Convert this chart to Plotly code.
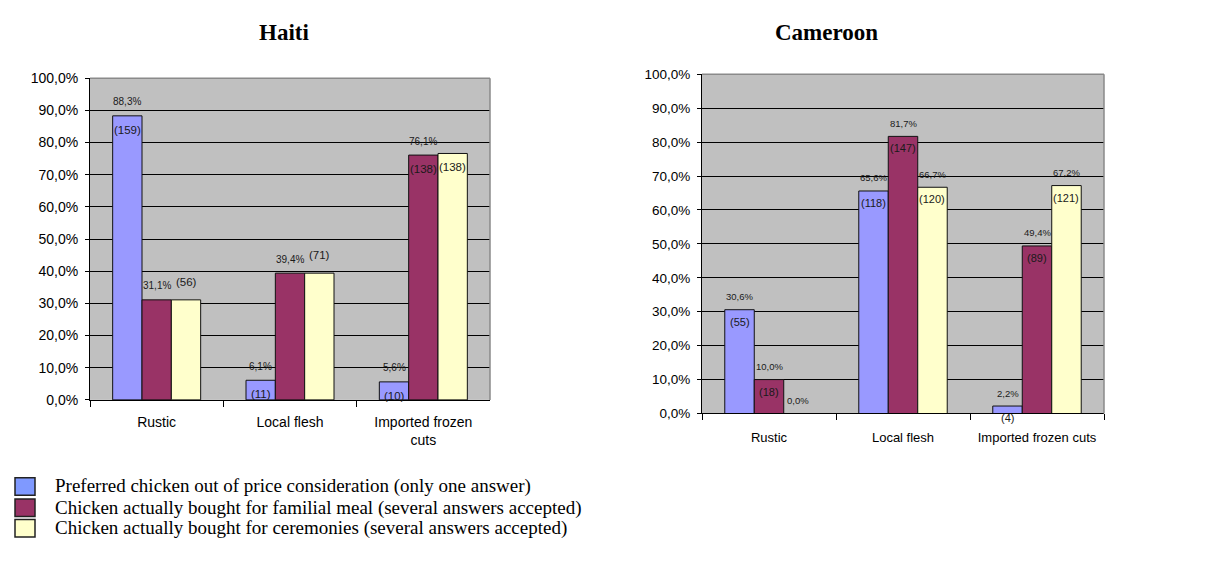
import plotly.graph_objects as go

# ---------------- data ----------------
categories = ["Rustic", "Local flesh", "Imported frozen cuts"]
haiti_tick_labels = ["Rustic", "Local flesh", "Imported frozen<br>cuts"]
cameroon_tick_labels = ["Rustic", "Local flesh", "Imported frozen cuts"]

series_names = [
    "Preferred chicken out of price consideration (only one answer)",
    "Chicken actually bought for familial meal (several answers accepted)",
    "Chicken actually bought for ceremonies (several answers accepted)",
]

# Haiti (percent)
haiti_preferred = [88.3, 6.1, 5.6]
haiti_familial = [31.1, 39.4, 76.1]
haiti_ceremonies = [31.1, 39.4, 76.6]

haiti_preferred_pct = ["88,3%", "6,1%", "5,6%"]
haiti_familial_pct = ["31,1%", "39,4%", "76,1%"]
haiti_ceremonies_pct = ["", "", ""]

haiti_preferred_n = ["(159)", "(11)", "(10)"]
haiti_familial_n = ["", "", "(138)"]
haiti_ceremonies_n = ["(56)", "(71)", "(138)"]
haiti_ceremonies_n_outside = [True, True, False]

# Cameroon (percent)
cam_preferred = [30.6, 65.6, 2.2]
cam_familial = [10.0, 81.7, 49.4]
cam_ceremonies = [0.0, 66.7, 67.2]

cam_preferred_pct = ["30,6%", "65,6%", "2,2%"]
cam_familial_pct = ["10,0%", "81,7%", "49,4%"]
cam_ceremonies_pct = ["0,0%", "66,7%", "67,2%"]

cam_preferred_n = ["(55)", "(118)", "(4)"]
cam_familial_n = ["(18)", "(147)", "(89)"]
cam_ceremonies_n = ["", "(120)", "(121)"]

y_ticks = [0, 10, 20, 30, 40, 50, 60, 70, 80, 90, 100]
y_tick_labels = ["0,0%", "10,0%", "20,0%", "30,0%", "40,0%", "50,0%",
                 "60,0%", "70,0%", "80,0%", "90,0%", "100,0%"]

# ---------------- styles / layout helpers ----------------
colors = ["#9999FF", "#993366", "#FFFFCC"]
legend_colors = ["#7F99FF", "#993366", "#FFFFCC"]
SANS = "Liberation Sans, Arial, sans-serif"
SERIF = "Liberation Serif, Times New Roman, serif"

PAGE_MARGIN = 8          # default body margin of the html page
W = 1224 - 2 * PAGE_MARGIN
H = 585 - 2 * PAGE_MARGIN


def px(x):
    return (x - PAGE_MARGIN) / W


def py(y):
    return 1 - (y - PAGE_MARGIN) / H


fig = go.Figure()

haiti_vals = [haiti_preferred, haiti_familial, haiti_ceremonies]
cam_vals = [cam_preferred, cam_familial, cam_ceremonies]

for k in range(3):
    fig.add_trace(go.Bar(x=categories, y=haiti_vals[k], name=series_names[k],
                         marker=dict(color=colors[k], line=dict(color="#111", width=1)),
                         xaxis="x", yaxis="y", showlegend=False, hoverinfo="skip"))
for k in range(3):
    fig.add_trace(go.Bar(x=categories, y=cam_vals[k], name=series_names[k],
                         marker=dict(color=colors[k], line=dict(color="#111", width=1)),
                         xaxis="x2", yaxis="y2", showlegend=False, hoverinfo="skip"))

offsets = [-0.22, 0.0, 0.22]
annotations = []


def add_label(xref, yref, i, k, val, text, shift, size):
    if not text:
        return
    annotations.append(dict(
        x=i + offsets[k], y=val, xref=xref, yref=yref, text=text,
        showarrow=False, yshift=shift, xanchor="center", yanchor="middle",
        font=dict(family=SANS, size=size, color="#1a1a1a")))


haiti_pcts = [haiti_preferred_pct, haiti_familial_pct, haiti_ceremonies_pct]
haiti_ns = [haiti_preferred_n, haiti_familial_n, haiti_ceremonies_n]
for k in range(3):
    for i in range(3):
        add_label("x", "y", i, k, haiti_vals[k][i], haiti_pcts[k][i], 14, 10)
        out = (k == 2 and haiti_ceremonies_n_outside[i])
        add_label("x", "y", i, k, haiti_vals[k][i], haiti_ns[k][i],
                  18 if out else -14, 11.5)

cam_pcts = [cam_preferred_pct, cam_familial_pct, cam_ceremonies_pct]
cam_ns = [cam_preferred_n, cam_familial_n, cam_ceremonies_n]
for k in range(3):
    for i in range(3):
        add_label("x2", "y2", i, k, cam_vals[k][i], cam_pcts[k][i], 13, 9.5)
        add_label("x2", "y2", i, k, cam_vals[k][i], cam_ns[k][i], -12, 11)

# titles
annotations.append(dict(x=px(257), y=py(25), xref="paper", yref="paper",
                        text="<b>Haiti</b>", showarrow=False, yanchor="middle",
                        font=dict(family=SERIF, size=23, color="black")))
annotations.append(dict(x=px(880), y=py(25), xref="paper", yref="paper",
                        text="<b>Cameroon</b>", showarrow=False, yanchor="middle",
                        font=dict(family=SERIF, size=23, color="black")))

# legend (custom)
shapes = []
legend_y = [492, 514, 535]
for k in range(3):
    yc = legend_y[k]
    shapes.append(dict(type="rect", xref="paper", yref="paper",
                       x0=px(15), x1=px(35), y0=py(yc + 9), y1=py(yc - 9),
                       fillcolor=legend_colors[k], line=dict(color="#222", width=1.5)))
    annotations.append(dict(x=px(53), y=py(yc), xref="paper", yref="paper",
                            text=series_names[k], showarrow=False, xanchor="left",
                            yanchor="middle",
                            font=dict(family=SERIF, size=19, color="black")))

# plot-area borders (top and right, grey)
for xr, yr in (("x", "y"), ("x2", "y2")):
    shapes.append(dict(type="line", xref=xr + " domain", yref=yr + " domain",
                       x0=0, x1=1, y0=1, y1=1, line=dict(color="#8a8a8a", width=1.5),
                       layer="above"))
    shapes.append(dict(type="line", xref=xr + " domain", yref=yr + " domain",
                       x0=1, x1=1, y0=0, y1=1, line=dict(color="#8a8a8a", width=1.5),
                       layer="above"))

xcommon = dict(type="category", categoryarray=categories, range=[-0.5, 2.5],
               showline=True, linecolor="black", linewidth=1, ticks="outside",
               tickson="boundaries", ticklen=6, tickcolor="black", showgrid=False,
               tickvals=categories, fixedrange=True)
ycommon = dict(range=[0, 100], tickvals=y_ticks, ticktext=y_tick_labels,
               showline=True, linecolor="black", linewidth=1, ticks="outside",
               ticklen=4, tickcolor="black", showgrid=True, gridcolor="black",
               gridwidth=1, zeroline=False, fixedrange=True)

fig.update_layout(
    width=W, height=H,
    margin=dict(l=0, r=0, t=0, b=0),
    paper_bgcolor="white", plot_bgcolor="#C0C0C0",
    barmode="group", bargap=0.34, bargroupgap=0,
    xaxis=dict(xcommon, domain=[px(90), px(490)], anchor="y",
               ticktext=haiti_tick_labels, ticklabelstandoff=9,
               tickfont=dict(family=SANS, size=14, color="black")),
    yaxis=dict(ycommon, domain=[py(403), py(72)], anchor="x",
               ticklabelstandoff=4,
               tickfont=dict(family=SANS, size=14, color="black")),
    xaxis2=dict(xcommon, domain=[px(702), px(1104)], anchor="y2",
                ticktext=cameroon_tick_labels, ticklabelstandoff=12,
                tickfont=dict(family=SANS, size=13, color="black")),
    yaxis2=dict(ycommon, domain=[py(417), py(68)], anchor="x2",
                ticklabelstandoff=4,
                tickfont=dict(family=SANS, size=13.5, color="black")),
    annotations=annotations,
    shapes=shapes,
    showlegend=False,
)

fig.write_html("out.html")
